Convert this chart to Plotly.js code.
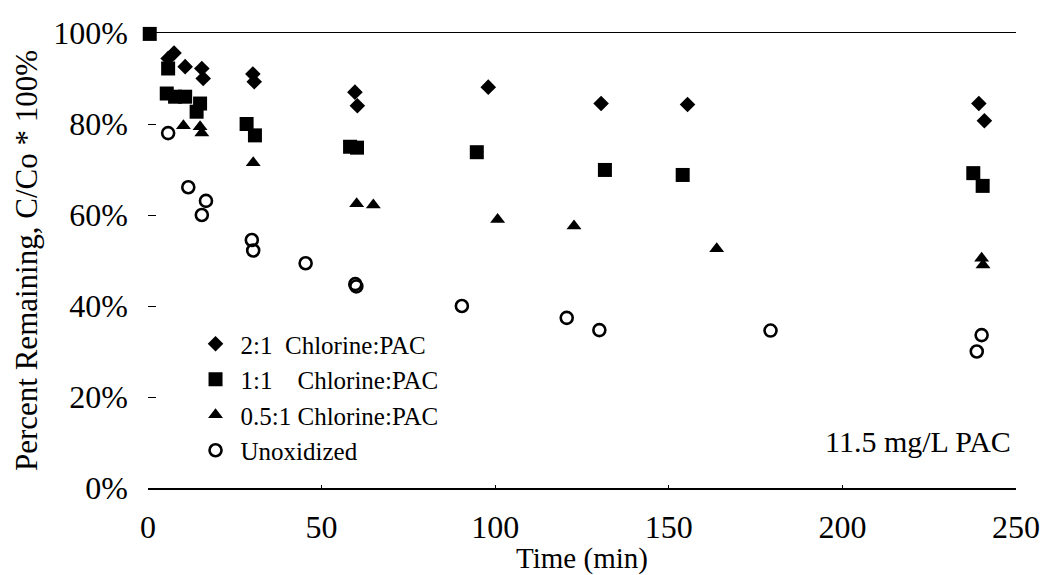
<!DOCTYPE html>
<html>
<head>
<meta charset="utf-8">
<script src="https://cdn.plot.ly/plotly-3.0.1.min.js"></script>
<style>html,body{margin:0;padding:0;background:#fff;}#chart{width:1046px;height:575px;}</style>
</head>
<body>
<div id="chart"></div>
<script>
// 2:1 Chlorine:PAC (diamonds)
const t21 = [5.8, 7.5, 10.7, 15.5, 15.9, 30.2, 30.6, 59.6, 60.3, 98, 130.5, 155.4, 239.3, 240.9];
const v21 = [94.4, 95.6, 92.6, 92.2, 90.0, 91.0, 89.3, 87.0, 84.0, 88.1, 84.5, 84.3, 84.5, 80.7];
// 1:1 Chlorine:PAC (squares)
const t11 = [0.5, 5.8, 5.4, 7.8, 10.7, 15.0, 14.0, 28.4, 30.8, 58.2, 60.2, 94.7, 131.6, 154.0, 237.7, 240.4];
const v11 = [99.8, 92.2, 86.7, 86.0, 86.0, 84.5, 82.7, 80.0, 77.5, 75.0, 74.8, 73.8, 69.9, 68.8, 69.2, 66.4];
// 0.5:1 Chlorine:PAC (triangles)
const t051 = [10.2, 15.0, 15.5, 30.3, 60.1, 64.9, 100.7, 122.7, 163.8, 240.1, 240.5];
const v051 = [79.6, 79.4, 78.0, 71.5, 62.5, 62.2, 59.0, 57.6, 52.6, 50.5, 49.0];
// Unoxidized (open circles)
const tUn = [5.8, 11.6, 16.7, 15.5, 29.9, 30.3, 45.4, 59.7, 60.0, 90.4, 120.6, 130.0, 179.3, 240.1, 238.7];
const vUn = [78.0, 66.1, 63.1, 60.0, 54.5, 52.2, 49.4, 44.8, 44.3, 40.0, 37.4, 34.7, 34.6, 33.6, 30.0];

const seriesNames = [
  "2:1\u00a0\u00a0Chlorine:PAC",
  "1:1\u00a0\u00a0\u00a0\u00a0Chlorine:PAC",
  "0.5:1 Chlorine:PAC",
  "Unoxidized"
];
const yTickVals = [0, 20, 40, 60, 80, 100];
const xTickVals = [0, 50, 100, 150, 200, 250];

const FONT = 'Liberation Serif, Times New Roman, serif';

const traces = [
  {x: t21, y: v21, name: seriesNames[0], type: 'scatter', mode: 'markers', cliponaxis: false,
   marker: {symbol: 'diamond', size: 12, color: '#000'}},
  {x: t11, y: v11, name: seriesNames[1], type: 'scatter', mode: 'markers', cliponaxis: false,
   marker: {symbol: 'square', size: 14, color: '#000'}},
  {x: t051, y: v051, name: seriesNames[2], type: 'scatter', mode: 'markers', cliponaxis: false,
   marker: {symbol: 'triangle-up', size: 13, color: '#000'}},
  {x: tUn, y: vUn, name: seriesNames[3], type: 'scatter', mode: 'markers', cliponaxis: false,
   marker: {symbol: 'circle-open', size: 12, color: '#000', line: {width: 2.6, color: '#000'}}}
];

const layout = {
  width: 1046, height: 575,
  margin: {l: 148, r: 30, t: 33, b: 87},
  paper_bgcolor: '#fff', plot_bgcolor: '#fff',
  font: {family: FONT, color: '#000', size: 30},
  showlegend: true,
  legend: {
    x: 0.049, y: 0.367, xanchor: 'left', yanchor: 'top',
    bgcolor: 'rgba(0,0,0,0)', font: {family: FONT, size: 25, color: '#000'},
    tracegroupgap: 0, itemwidth: 40
  },
  xaxis: {
    range: [0, 250], tickvals: xTickVals, ticktext: xTickVals.map(String),
    showgrid: false, zeroline: false, showline: true, linecolor: '#000', linewidth: 1.5,
    mirror: true, ticks: 'inside', ticklen: 3, tickcolor: '#000',
    tickfont: {family: FONT, size: 32, color: '#000'}, ticklabelstandoff: 10,
    title: {text: 'Time (min)', font: {family: FONT, size: 29, color: '#000'}, standoff: 2}
  },
  yaxis: {
    range: [0, 100], tickvals: yTickVals, ticktext: yTickVals.map(v => v + '%'),
    showgrid: false, zeroline: false, showline: false,
    ticks: 'inside', ticklen: 8, tickcolor: '#000', tickwidth: 1,
    tickfont: {family: FONT, size: 32, color: '#000'}, ticklabelstandoff: 19,
    title: {text: 'Percent Remaining, C/Co * 100%', font: {family: FONT, size: 31, color: '#000'}, standoff: 6}
  },
  annotations: [{
    x: 249, y: 10.3, xref: 'x', yref: 'y', xanchor: 'right', yanchor: 'middle',
    text: '11.5 mg/L PAC', showarrow: false, font: {family: FONT, size: 30, color: '#000'}
  }]
};

Plotly.newPlot('chart', traces, layout, {displayModeBar: false, staticPlot: true});
</script>
</body>
</html>
